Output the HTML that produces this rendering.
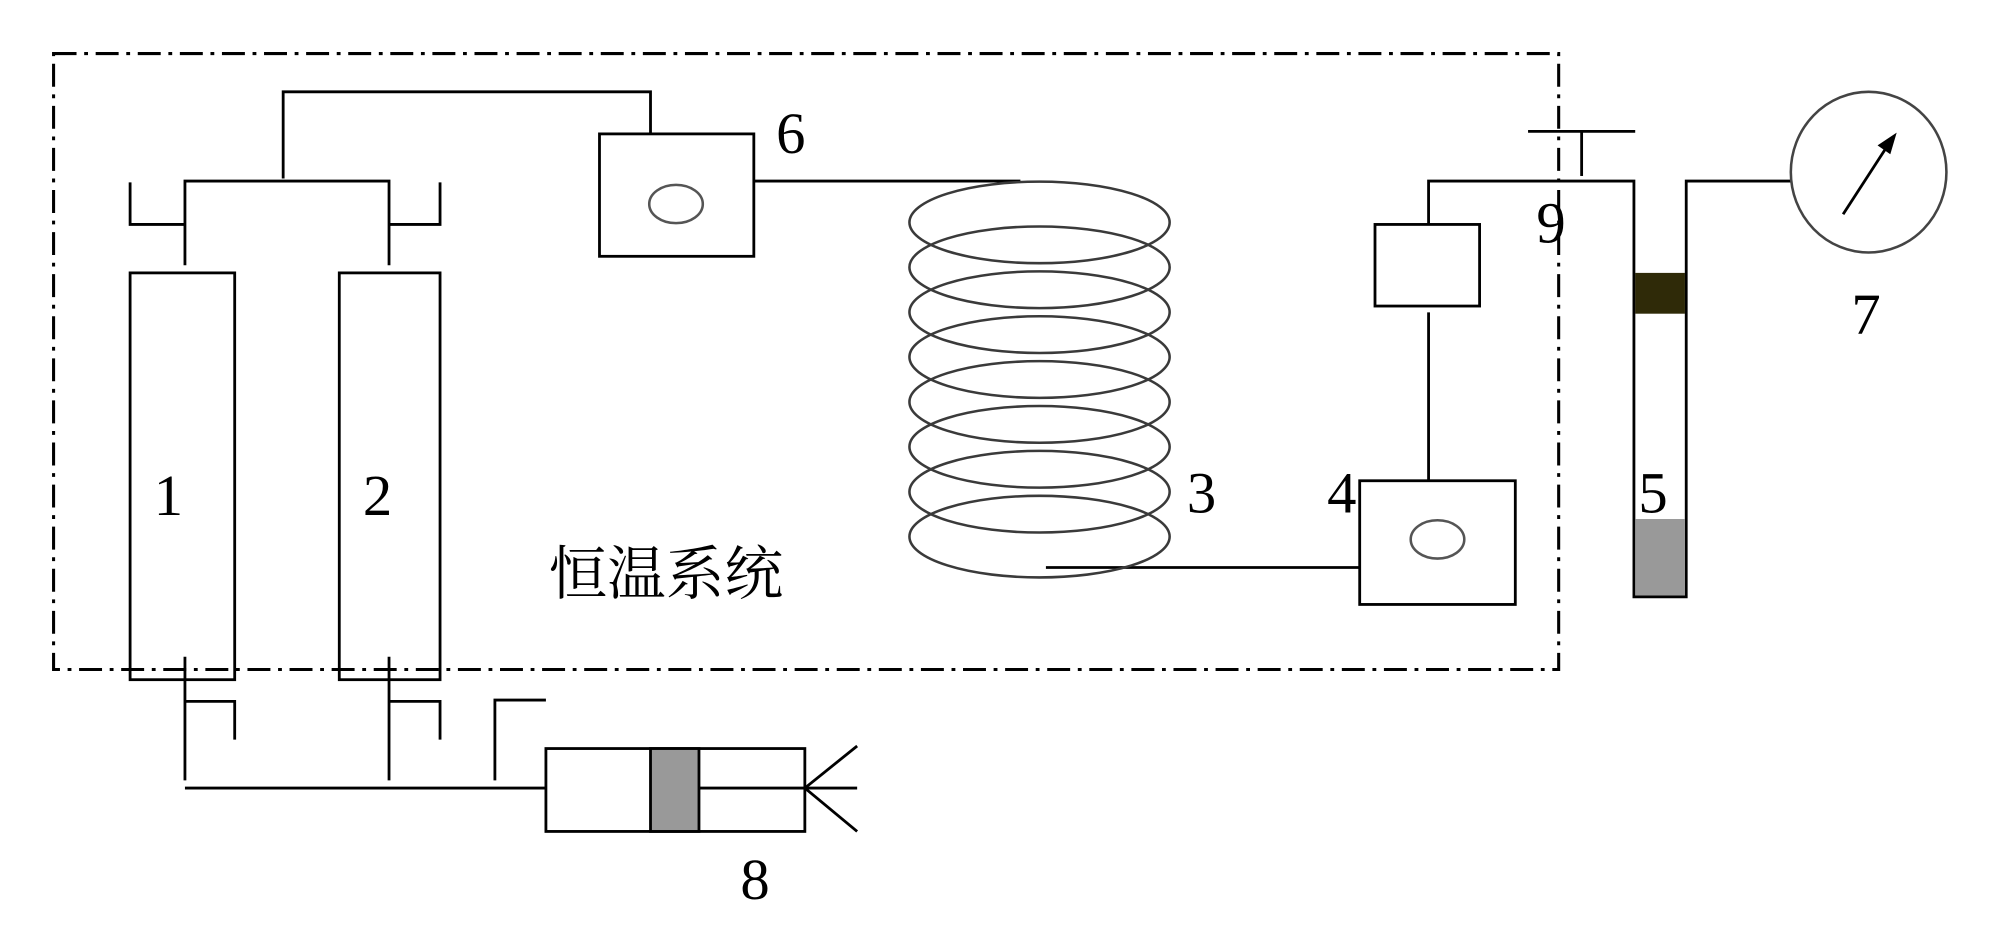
<!DOCTYPE html>
<html><head><meta charset="utf-8"><style>
html,body{margin:0;padding:0;background:#fff;}
svg{display:block;}
text{font-family:"Liberation Serif","Noto Serif CJK SC",serif;fill:#000;}
</style></head><body>
<svg width="2000" height="936" viewBox="0 0 1568 734" preserveAspectRatio="none" xmlns="http://www.w3.org/2000/svg">
<rect width="1568" height="734" fill="#fff"/>
<g fill="none" stroke="#000" stroke-width="2.2">
<rect x="42" y="42" width="1180" height="483" stroke-dasharray="18,6,3,6" stroke-width="2.4"/>
<polyline points="222,140 222,72 510,72 510,105"/>
<rect x="470" y="105" width="121" height="96"/>
<line x1="591" y1="142" x2="800" y2="142"/>
<polyline points="145,208 145,142 305,142 305,208"/>
<polyline points="102,143 102,176 145,176"/>
<polyline points="345,143 345,176 305,176"/>
<rect x="102" y="214" width="82" height="319"/>
<rect x="266" y="214" width="79" height="319"/>
<line x1="145" y1="515" x2="145" y2="612"/>
<polyline points="145,550 184,550 184,580"/>
<line x1="305" y1="515" x2="305" y2="612"/>
<polyline points="305,550 345,550 345,580"/>
<polyline points="388,612 388,549 428,549"/>
<line x1="145" y1="618" x2="428" y2="618"/>
<rect x="428" y="587" width="203" height="65"/>
<rect x="510" y="587" width="38" height="65" fill="#999"/>
<line x1="548" y1="618" x2="672" y2="618"/>
<line x1="631" y1="618" x2="672" y2="585"/>
<line x1="631" y1="618" x2="672" y2="652"/>
<line x1="820" y1="445" x2="1066" y2="445"/>
<rect x="1066" y="377" width="122" height="97"/>
<line x1="1120" y1="377" x2="1120" y2="245"/>
<rect x="1078" y="176" width="82" height="64"/>
<polyline points="1120,176 1120,142 1281,142 1281,468 1322,468 1322,142 1405,142"/>
<line x1="1198" y1="103" x2="1282" y2="103"/>
<line x1="1240" y1="103" x2="1240" y2="138"/>
<line x1="1445" y1="168" x2="1480" y2="114"/>
</g>
<rect x="1282" y="214" width="39" height="32" fill="#2f2a08"/>
<rect x="1282" y="407" width="39" height="60" fill="#999"/>
<ellipse cx="1465" cy="135" rx="61" ry="63" fill="none" stroke="#444" stroke-width="2"/>
<polygon points="1487,104 1472,114 1482,121" fill="#000"/>
<ellipse cx="530" cy="160" rx="21" ry="15" fill="none" stroke="#555" stroke-width="2"/>
<ellipse cx="1127" cy="423" rx="21" ry="15" fill="none" stroke="#555" stroke-width="2"/>
<g fill="none" stroke="#3a3a3a" stroke-width="2">
<ellipse cx="815" cy="174.4" rx="102" ry="32"/>
<ellipse cx="815" cy="209.6" rx="102" ry="32"/>
<ellipse cx="815" cy="244.8" rx="102" ry="32"/>
<ellipse cx="815" cy="280" rx="102" ry="32"/>
<ellipse cx="815" cy="315.2" rx="102" ry="32"/>
<ellipse cx="815" cy="350.4" rx="102" ry="32"/>
<ellipse cx="815" cy="385.6" rx="102" ry="32"/>
<ellipse cx="815" cy="420.8" rx="102" ry="32"/>
</g>
<g font-size="46" text-anchor="middle">
<text x="132" y="404">1</text>
<text x="296" y="404">2</text>
<text x="942" y="402">3</text>
<text x="1052" y="402">4</text>
<text x="1296" y="402">5</text>
<text x="620" y="120">6</text>
<text x="1463" y="262">7</text>
<text x="592" y="705">8</text>
<text x="1216" y="190">9</text>
</g>
<text x="430" y="466" font-size="46" style="font-family:'Noto Serif CJK SC','Noto Sans CJK SC',serif">恒温系统</text>
</svg>
</body></html>
